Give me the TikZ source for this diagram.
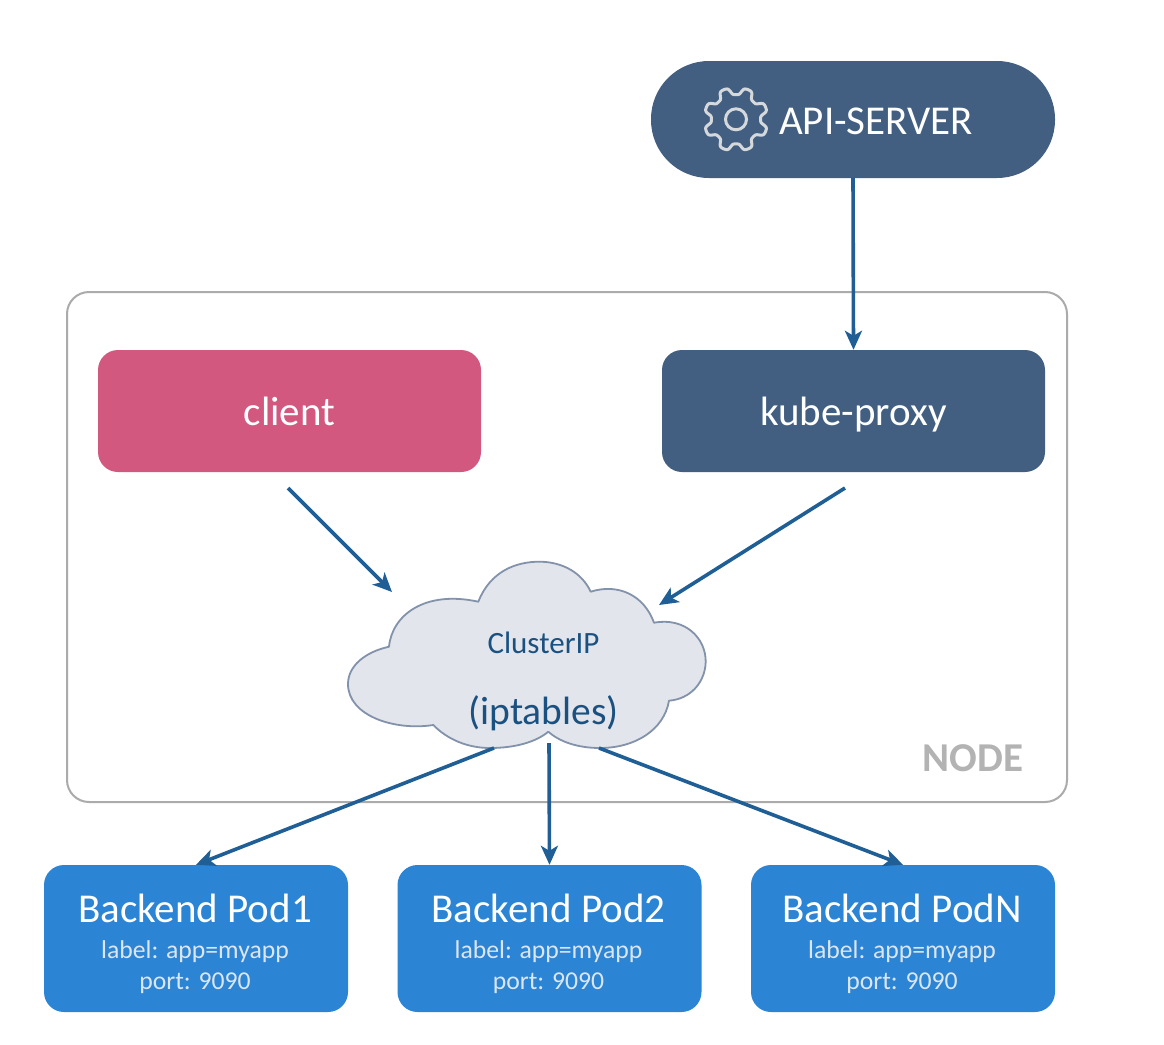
\documentclass[tikz,border=0pt]{standalone}
\usepackage{fontspec}
\setmainfont{Carlito}
\usetikzlibrary{arrows.meta}
\definecolor{navy}{HTML}{425F82}
\definecolor{rose}{HTML}{D25880}
\definecolor{podblue}{HTML}{2B84D4}
\definecolor{arrowblue}{HTML}{1F5F96}
\definecolor{cloudfill}{HTML}{E2E5EB}
\definecolor{cloudline}{HTML}{8392AB}
\definecolor{sublabel}{HTML}{DCE6F0}
\definecolor{gearline}{HTML}{D6D9DC}
\definecolor{nodegray}{HTML}{B3B3B3}
\definecolor{frameline}{HTML}{ABABAB}
\tikzset{
  box/.style={draw=none,rounded corners=20pt,align=center,text=white,inner sep=0pt,minimum height=122pt,minimum width=383pt,text height=34pt,text depth=6pt,font=\fontsize{41}{44}\selectfont},
  podbox/.style={draw=none,fill=podblue,rounded corners=20pt,inner sep=0pt,minimum width=304pt,minimum height=147pt},
  podhead/.style={text=white,inner sep=0pt,font=\fontsize{41}{44}\selectfont},
  podsub/.style={text=sublabel,inner sep=0pt,font=\fontsize{25.7}{30}\selectfont},
  link/.style={draw=arrowblue,line width=3.6pt,-{Stealth[length=19pt,width=17pt,inset=5pt]}},
  bigtxt/.style={font=\fontsize{41}{44}\selectfont}
}
\begin{document}
\begin{tikzpicture}[x=1pt,y=-1pt]
\useasboundingbox (0,0) rectangle (1164,1044);
\fill[white] (0,0) rectangle (1164,1044);
% NODE frame
\draw[frameline,line width=2pt,rounded corners=22pt] (67,292) rectangle (1067,802);
\node[font=\bfseries\fontsize{41}{44}\selectfont,text=nodegray,anchor=center] (nodelabel) at (973,758) {NODE};
% API-SERVER
\node[fill=navy,rounded corners=58pt,minimum width=404pt,minimum height=117pt,inner sep=0pt] (api) at (853,119.5) {};
\node[text=white,bigtxt,anchor=center] (apitext) at (876,121) {API-SERVER};
\draw[gearline,line width=3pt,line join=round] plot[smooth cycle,domain=0:358,samples=180,variable=\t] ({736+(28.3+3.7*tanh(2*cos(8*\t+180))/tanh(2))*cos(\t)},{119.3+(28.3+3.7*tanh(2*cos(8*\t+180))/tanh(2))*sin(\t)});
\draw[gearline,line width=3pt] (736,119.3) circle (10.5);
% client and kube-proxy
\node[box,fill=rose] (client) at (289.5,411) {client};
\node[box,fill=navy] (kube) at (853.5,411) {kube-proxy};
% cloud
\draw[cloudline,fill=cloudfill,line width=1.8pt,line join=round]
  (478.3,601.7)
  .. controls (490,572) and (515,561.5) .. (540,561.7)
  .. controls (563,562) and (582,573) .. (590.7,591.7)
  .. controls (618,583) and (644,595) .. (654,622.7)
  .. controls (685,617) and (706,638) .. (705.7,662)
  .. controls (705,683) and (690,699) .. (669,700.7)
  .. controls (664,730) and (635,748) .. (600,748)
  .. controls (578,748) and (560,742) .. (548.3,731.7)
  .. controls (536,742) and (515,748) .. (490,748)
  .. controls (467,748) and (447,739) .. (433.3,725)
  .. controls (395,731) and (348,716) .. (348,684)
  .. controls (348,666) and (365,652) .. (389,646.7)
  .. controls (392,615) and (425,590) .. (478.3,601.7)
  -- cycle;
\node[text=arrowblue!85!black,font=\fontsize{31}{34}\selectfont] (clusterip) at (543.5,643) {ClusterIP};
\node[text=arrowblue!85!black,font=\fontsize{39.5}{42}\selectfont] (iptables) at (543.5,713) {(iptables)};
% pods
\node[podbox] (pod1) at (196,938.5) {};
\node[podbox] (pod2) at (549.5,938.5) {};
\node[podbox] (pod3) at (903,938.5) {};
\node[podhead] (pod1a) at (195,908) {Backend Pod1};
\node[podhead] (pod2a) at (548.5,908) {Backend Pod2};
\node[podhead] (pod3a) at (902,908) {Backend PodN};
\node[podsub] (pod1b) at (195,952) {label: app=myapp};
\node[podsub] (pod2b) at (548.5,952) {label: app=myapp};
\node[podsub] (pod3b) at (902,952) {label: app=myapp};
\node[podsub] (pod1c) at (195,983.5) {port: 9090};
\node[podsub] (pod2c) at (548.5,983.5) {port: 9090};
\node[podsub] (pod3c) at (902,983.5) {port: 9090};
% free ends
\coordinate (cliout) at (288,488);
\coordinate (cliin) at (392,592);
\coordinate (kubeout) at (845,488);
\coordinate (kubein) at (659,605);
\coordinate (cl1) at (494,748);
\coordinate (cl2) at (549,743);
\coordinate (cl3) at (599,748);
% connectors
\draw[link] (api.south) -- (kube.north);
\draw[link] (cliout) -- (cliin);
\draw[link] (kubeout) -- (kubein);
\draw[link] (cl1) -- (pod1.north);
\draw[link] (cl2) -- (pod2.north);
\draw[link] (cl3) -- (pod3.north);
\end{tikzpicture}
\end{document}
